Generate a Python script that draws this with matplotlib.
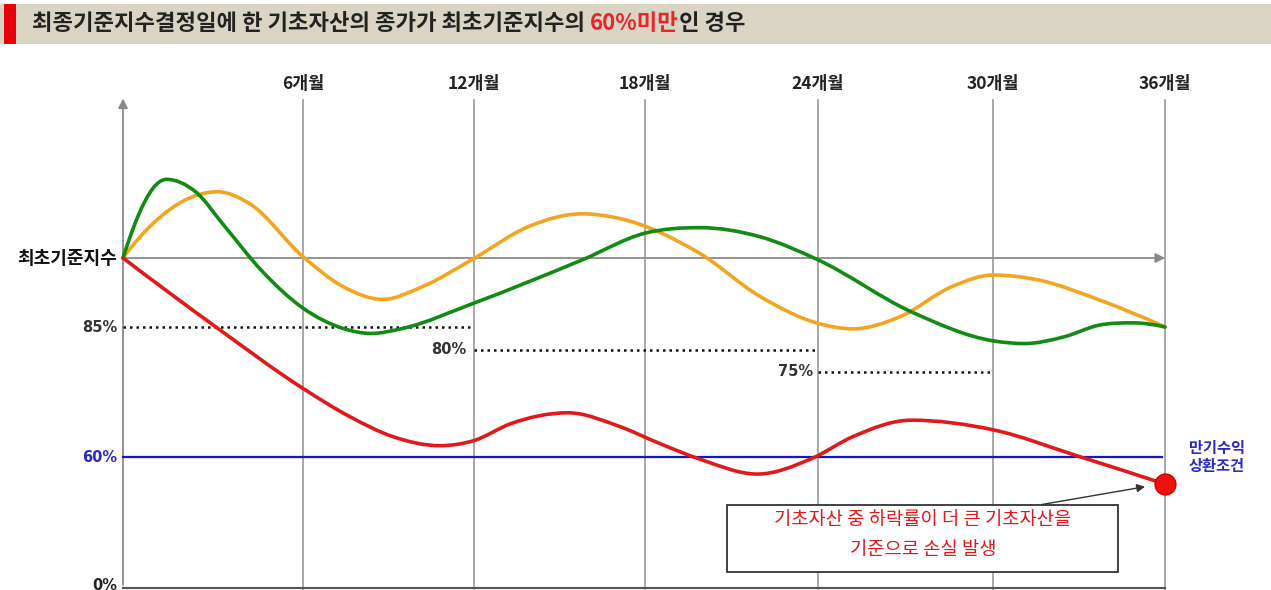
import numpy as np
import matplotlib
matplotlib.use("Agg")
from matplotlib import pyplot as plt
from matplotlib.path import Path
from matplotlib.patches import PathPatch, Rectangle

plt.rcParams['font.family'] = ['Noto Sans CJK KR', 'DejaVu Sans']

# 기간 (개월) 및 눈금
months = [6, 12, 18, 24, 30, 36]
month_labels = ['6개월', '12개월', '18개월', '24개월', '30개월', '36개월']

# 기초자산 경로 (개월, 최초기준지수 대비 %)
green_m = [0, 1.45, 2.4, 3.4, 4.6, 6.0, 7.4, 8.4, 9.5, 12, 15.8, 18,
           19.9, 22, 24, 27.2, 30, 31.1, 32.5, 33.7, 34.9, 36]
green_p = [100, 117.1, 114.5, 106.8, 97.4, 89.1, 84.7, 83.6, 84.7, 90.2, 99.6, 105.4,
           106.6, 104.6, 99.6, 88.3, 82.0, 81.4, 82.9, 85.4, 85.9, 85]
orange_m = [0, 1.0, 2.2, 3.16, 4.2, 6.0, 7.4, 8.8, 10.2, 12, 13.9, 15.8, 17.1,
            19.9, 22, 24, 25.2, 26.8, 28.6, 30, 31.6, 33.7, 36]
orange_p = [100, 107.5, 113, 114.4, 111.9, 100.3, 93.8, 91.0, 93.8, 99.9, 106.8, 109.6, 108.6,
            101, 91.6, 85.8, 84.6, 87.2, 93.8, 96.3, 95.2, 90.9, 85]
red_m = [0, 3.16, 6.0, 7.65, 9.15, 10.8, 12, 13.3, 15.3, 17.1, 18.5, 19.9,
         21.9, 23.8, 25.2, 27.2, 30, 33, 36]
red_p = [100, 84.7, 72.1, 67.1, 63.6, 62.0, 62.9, 65.9, 67.8, 65.4, 62.4, 59,
         52.0, 59.4, 63.6, 66.5, 64.8, 60.1, 47.3]

# 조기상환 배리어 (%, 시작, 끝 개월)
barriers = [(85, 0, 12), (80, 12, 24), (75, 24, 30)]
final_barrier = 60

# 그림 배치용 구간 매핑 (개략도라서 축이 비선형)
W, H = 1271, 590
X_NODES = [-4.1, 0, 6, 12, 18, 24, 30, 36, 39.7]
X_PX = [0, 123, 303, 474, 645, 818, 993, 1165, 1271]
Y_NODES = [-2.34, 0, 60, 75, 80, 85, 100, 156.1]
Y_PX = [0, 5, 133, 218, 240, 263, 332, 590]


def fx(v):
    return np.interp(v, X_NODES, X_PX)


def fx_inv(v):
    return np.interp(v, X_PX, X_NODES)


def fy(v):
    return np.interp(v, Y_NODES, Y_PX)


def fy_inv(v):
    return np.interp(v, Y_PX, Y_NODES)


def smooth_path(ms, ps):
    # 화면 좌표에서 3차 에르미트 -> 베지어, 극값에서는 기울기 0
    x = fx(np.asarray(ms, float))
    y = fy(np.asarray(ps, float))
    s = np.gradient(y, x, edge_order=2)
    d = np.diff(y)
    for k in range(1, len(x) - 1):
        if d[k - 1] * d[k] < 0:
            s[k] = 0
    verts = [(x[0], y[0])]
    codes = [Path.MOVETO]
    for i in range(len(x) - 1):
        dx = x[i + 1] - x[i]
        verts += [(x[i] + dx / 3, y[i] + s[i] * dx / 3),
                  (x[i + 1] - dx / 3, y[i + 1] - s[i + 1] * dx / 3),
                  (x[i + 1], y[i + 1])]
        codes += [Path.CURVE4] * 3
    verts = np.array(verts) / [W, H]
    return Path(verts, codes)


fig = plt.figure(figsize=(W / 100, H / 100), dpi=100)

# 제목 띠
fig.patches.append(Rectangle((0, 1 - 44 / H), 1, 40 / H, transform=fig.transFigure,
                             facecolor='#d9d4c3', edgecolor='none'))
fig.patches.append(Rectangle((4 / W, 1 - 44 / H), 12 / W, 40 / H, transform=fig.transFigure,
                             facecolor='#e8000b', edgecolor='none'))
ty = 1 - 23 / H
t1 = fig.text(32 / W, ty, '최종기준지수결정일에 한 기초자산의 종가가 최초기준지수의 ',
              fontsize=16, color='#222222', va='center', fontweight='bold')
fig.canvas.draw()
bb = t1.get_window_extent()
t2 = fig.text(bb.x1 / W, ty, '60%미만', fontsize=16, color='#e8262a', va='center', fontweight='bold')
bb2 = t2.get_window_extent()
fig.text(bb2.x1 / W, ty, '인 경우', fontsize=16, color='#222222', va='center', fontweight='bold')

ax = fig.add_axes([0, 0, 1, 1])
ax.set_xscale('function', functions=(fx, fx_inv))
ax.set_yscale('function', functions=(fy, fy_inv))
ax.set_xlim(X_NODES[0], X_NODES[-1])
ax.set_ylim(Y_NODES[0], Y_NODES[-1])
ax.axis('off')
ax.patch.set_alpha(0)

top = 134.3
# 세로 격자
for m, lab in zip(months, month_labels):
    ax.plot([m, m], [-2.3, top], color='#9a9a9a', lw=1.2, zorder=1)
    ax.text(m, 137.8, lab, ha='center', va='center', fontsize=12.5, fontweight='bold', color='#222222')

# 축 화살표
ax.annotate('', xy=(0, top + 1), xytext=(0, -1.3),
            arrowprops=dict(arrowstyle='-|>', color='#8a8a8a', lw=1.3, mutation_scale=14), zorder=2)
ax.annotate('', xy=(36.1, 100), xytext=(0, 100),
            arrowprops=dict(arrowstyle='-|>', color='#8a8a8a', lw=1.3, mutation_scale=14), zorder=2)
ax.plot([0, 36], [-1.3, -1.3], color='#555555', lw=1.5, zorder=2)

# 배리어 점선
pct_font = dict(family='DejaVu Sans', fontsize=10.5, fontweight='bold')
for lvl, m0, m1 in barriers:
    ax.plot([m0, m1], [lvl, lvl], color='#111111', lw=1.8, ls=(0, (1, 1.6)), zorder=2)
ax.text(11.75, 80, '80%', ha='right', va='center', color='#333333', **pct_font)
ax.text(23.83, 75, '75%', ha='right', va='center', color='#333333', **pct_font)
ax.plot([0, 35.9], [final_barrier, final_barrier], color='#1515c8', lw=1.6, zorder=2)

# 기초자산 경로
for xs, ys, c in [(orange_m, orange_p, '#f2a51f'), (green_m, green_p, '#138a13'),
                  (red_m, red_p, '#e0191b')]:
    ax.add_patch(PathPatch(smooth_path(xs, ys), transform=ax.transAxes, fill=False,
                           edgecolor=c, lw=2.6, capstyle='round', zorder=3))
ax.plot([red_m[-1]], [red_p[-1]], 'o', ms=15, color='#ee1111', mec='#cc0000', zorder=4)

# 왼쪽 라벨
ax.text(-0.2, 100, '최초기준지수', ha='right', va='center', fontsize=13, color='#111111',
        fontweight='bold')
ax.text(-0.2, 85, '85%', ha='right', va='center', color='#333333', **pct_font)
ax.text(-0.2, 60, '60%', ha='right', va='center', color='#2b2bbf', **pct_font)
ax.text(-0.2, 0, '0%', ha='right', va='center', color='#222222', **pct_font)
ax.text(37.8, 60, '만기수익\n상환조건', ha='center', va='center', fontsize=11, fontweight='bold',
        color='#2b2bbf', linespacing=1.1)

# 설명 박스
ax.add_patch(Rectangle((20.84, 6.1), 34.36 - 20.84, 37.5 - 6.1, facecolor='white',
                       edgecolor='#333333', lw=1.3, zorder=5))
ax.text(27.6, 30.5, '기초자산 중 하락률이 더 큰 기초자산을', ha='center', va='center', fontsize=13.5,
        color='#e0191b', zorder=6)
ax.text(27.6, 16.5, '기준으로 손실 발생', ha='center', va='center', fontsize=13.5, color='#e0191b',
        zorder=6)
ax.annotate('', xy=(35.4, 46.3), xytext=(31.6, 37.5),
            arrowprops=dict(arrowstyle='-|>', color='#333333', lw=1.0, mutation_scale=12), zorder=5)

fig.savefig('out.png', dpi=100)
